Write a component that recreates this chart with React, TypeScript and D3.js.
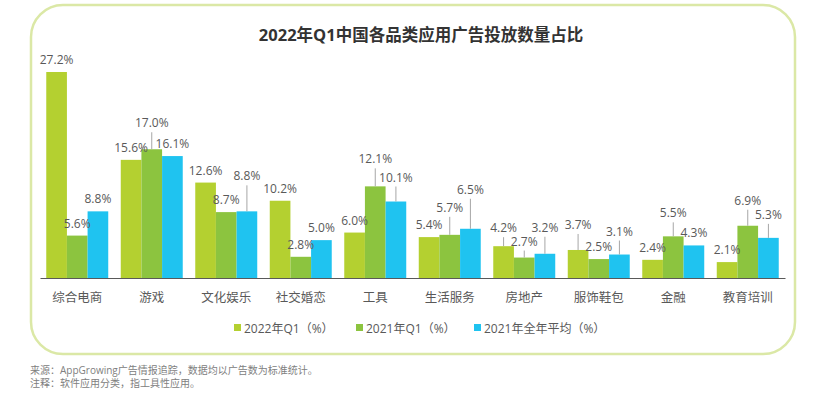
import React, { useEffect, useRef } from 'react';
import * as d3 from 'd3';

const categories = ['综合电商', '游戏', '文化娱乐', '社交婚恋', '工具', '生活服务', '房地产', '服饰鞋包', '金融', '教育培训'];
const seriesNames = ['2022年Q1（%）', '2021年Q1（%）', '2021年全年平均（%）'];
const q1_2022 = [27.2, 15.6, 12.6, 10.2, 6.0, 5.4, 4.2, 3.7, 2.4, 2.1];
const q1_2021 = [5.6, 17.0, 8.7, 2.8, 12.1, 5.7, 2.7, 2.5, 5.5, 6.9];
const avg_2021 = [8.8, 16.1, 8.8, 5.0, 10.1, 6.5, 3.2, 3.1, 4.3, 5.3];

const title = '2022年Q1中国各品类应用广告投放数量占比';
const notes = ['来源：AppGrowing广告情报追踪，数据均以广告数为标准统计。', '注释：软件应用分类，指工具性应用。'];

// how far some value labels are pushed up (px), with a leader line back to the bar
const labelLift = [
  [0, 0, 0, 0, 0, 0, 6, 13, 0, 0],
  [0, 14, 0, 0, 15, 15, 4, 0, 11, 13],
  [0, 0, 23, 0, 12, 27, 14, 11, 0, 11],
];

const colors = ['#b4d030', '#8cc43f', '#1fc3f0'];
const FONT = '"Open Sans", "Noto Sans CJK SC", sans-serif';

const App = () => {
  const svgRef = useRef<SVGSVGElement>(null);

  useEffect(() => {
    const svg = d3.select(svgRef.current);
    svg.selectAll('*').remove();

    const width = 830;
    const height = 396;
    svg.attr('width', width).attr('height', height);

    const seriesValues = [q1_2022, q1_2021, avg_2021];

    // frame
    svg.append('rect')
      .attr('x', 31).attr('y', 5)
      .attr('width', 764).attr('height', 349)
      .attr('rx', 32).attr('ry', 32)
      .style('fill', 'none')
      .style('stroke', '#dbe8a6')
      .style('stroke-width', 2.5);

    svg.append('text')
      .attr('x', 421).attr('y', 41)
      .attr('text-anchor', 'middle')
      .style('font-family', FONT)
      .style('font-size', '16.5px')
      .style('font-weight', 'bold')
      .style('fill', '#333333')
      .text(title);

    const baseY = 278;
    const x0 = d3.scaleBand<string>()
      .domain(categories)
      .range([40, 785])
      .paddingInner(0.168)
      .paddingOuter(0.084);

    const x1 = d3.scaleBand<string>()
      .domain(seriesNames)
      .range([0, x0.bandwidth()])
      .padding(0);

    const y = d3.scaleLinear()
      .domain([0, 27.2])
      .range([baseY, 72]);

    const chart = svg.append('g');

    seriesValues.forEach((vals, si) => {
      const name = seriesNames[si];
      const g = chart.append('g');
      g.selectAll('rect')
        .data(vals)
        .enter()
        .append('rect')
        .attr('x', (d, i) => (x0(categories[i]) as number) + (x1(name) as number))
        .attr('width', x1.bandwidth())
        .attr('y', d => y(d))
        .attr('height', d => baseY - y(d))
        .style('fill', colors[si]);
    });

    // value labels
    seriesValues.forEach((vals, si) => {
      const name = seriesNames[si];
      const cx = (i: number) => (x0(categories[i]) as number) + (x1(name) as number) + x1.bandwidth() / 2;
      const ly = (d: number, i: number) => y(d) - 8 - labelLift[si][i];

      chart.append('g').selectAll('line')
        .data(vals.map((v, i) => ({ v, i })).filter(p => labelLift[si][p.i] > 0))
        .enter()
        .append('line')
        .attr('x1', p => cx(p.i)).attr('x2', p => cx(p.i))
        .attr('y1', p => ly(p.v, p.i) + 5)
        .attr('y2', p => y(p.v))
        .style('stroke', '#a6a6a6')
        .style('stroke-width', 1);

      chart.append('g').selectAll('text')
        .data(vals)
        .enter()
        .append('text')
        .attr('x', (d, i) => cx(i))
        .attr('y', (d, i) => ly(d, i))
        .attr('text-anchor', 'middle')
        .style('font-family', FONT)
        .style('font-size', '12px')
        .style('fill', '#595959')
        .text(d => `${d.toFixed(1)}%`);
    });

    // category axis
    const axis = chart.append('g')
      .attr('transform', `translate(0,${baseY})`)
      .call(d3.axisBottom(x0).tickSize(0).tickSizeOuter(0).tickPadding(15));
    axis.select('.domain').style('stroke', '#595959').style('stroke-width', 1.2);
    axis.selectAll('text')
      .style('font-family', FONT)
      .style('font-size', '12.5px')
      .style('fill', '#595959');

    // legend
    const legendX = [234, 356, 474];
    const legend = svg.append('g');
    seriesNames.forEach((name, si) => {
      legend.append('rect')
        .attr('x', legendX[si]).attr('y', 324)
        .attr('width', 7).attr('height', 7)
        .style('fill', colors[si]);
      legend.append('text')
        .attr('x', legendX[si] + 10).attr('y', 332.5)
        .style('font-family', FONT)
        .style('font-size', '12px')
        .style('fill', '#595959')
        .text(name);
    });

    // footnotes
    notes.forEach((t, i) => {
      svg.append('text')
        .attr('x', 30).attr('y', 374 + i * 13)
        .style('font-family', FONT)
        .style('font-size', '10px')
        .style('fill', '#808080')
        .text(t);
    });
  }, []);

  return (
    <div style={{ position: 'absolute', left: 0, top: 0 }}>
      <svg ref={svgRef} style={{ display: 'block', background: '#ffffff' }}></svg>
    </div>
  );
};

export default App;
